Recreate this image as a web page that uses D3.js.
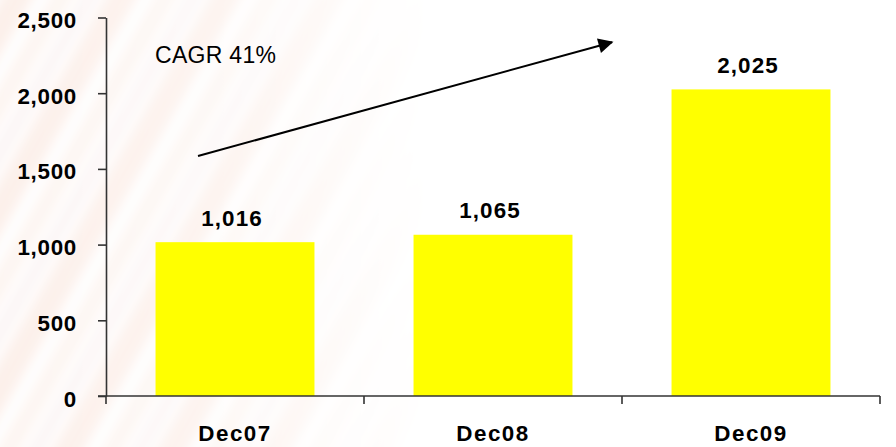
<!DOCTYPE html>
<html>
<head>
<meta charset="utf-8">
<script src="https://cdn.jsdelivr.net/npm/d3@7"></script>
<style>
  html, body { margin: 0; padding: 0; background: #fff; }
  svg { display: block; font-family: "Liberation Sans", Arial, sans-serif; }
</style>
</head>
<body>
<svg id="chart" width="896" height="447"></svg>
<script>
// Year-end values
const categories = ["Dec07", "Dec08", "Dec09"];
const values = [1016, 1065, 2025];
const yTicks = [0, 500, 1000, 1500, 2000, 2500];
const growthLabel = "CAGR 41%";

const W = 896, H = 447;
const plotLeft = 106, plotRight = 880, plotTop = 17.5, plotBottom = 396;
const FONT = "Liberation Sans, Arial, sans-serif";

const svg = d3.select("#chart");
const defs = svg.append("defs");

// Faint diagonal stripes in the background, fading out toward the right
const pat = defs.append("pattern")
  .attr("id", "stripes")
  .attr("patternUnits", "userSpaceOnUse")
  .attr("width", 90).attr("height", 90)
  .attr("patternTransform", "rotate(30)");
pat.append("rect").attr("x", 0).attr("y", 0).attr("width", 90).attr("height", 90).attr("fill", "#fff");
pat.append("rect").attr("x", 0).attr("y", 0).attr("width", 28).attr("height", 90).attr("fill", "#fbe9e1");
pat.append("rect").attr("x", 42).attr("y", 0).attr("width", 20).attr("height", 90).attr("fill", "#fcf1eb");
pat.append("rect").attr("x", 70).attr("y", 0).attr("width", 12).attr("height", 90).attr("fill", "#f9eeee");

const fade = defs.append("linearGradient")
  .attr("id", "fade").attr("x1", 0).attr("x2", 1).attr("y1", 0).attr("y2", 0);
fade.append("stop").attr("offset", "0%").attr("stop-color", "#fff").attr("stop-opacity", 0.7);
fade.append("stop").attr("offset", "25%").attr("stop-color", "#fff").attr("stop-opacity", 0.5);
fade.append("stop").attr("offset", "48%").attr("stop-color", "#fff").attr("stop-opacity", 0);
const mask = defs.append("mask").attr("id", "fadeMask");
mask.append("rect").attr("width", W).attr("height", H).attr("fill", "url(#fade)");

const blur = defs.append("filter").attr("id", "soft");
blur.append("feGaussianBlur").attr("stdDeviation", 6);

svg.append("rect").attr("width", W).attr("height", H).attr("fill", "#fff");
svg.append("g").attr("mask", "url(#fadeMask)")
  .append("rect").attr("x", -20).attr("y", -20).attr("width", W + 40).attr("height", H + 40)
  .attr("fill", "url(#stripes)").attr("filter", "url(#soft)");

// Scales
const y = d3.scaleLinear().domain([0, 2500]).range([plotBottom, plotTop]);
const x = d3.scaleBand().domain(categories).range([plotLeft, plotRight])
  .paddingInner(0.384).paddingOuter(0.192);
const xCat = d3.scaleBand().domain(categories).range([plotLeft, plotRight]).padding(0);

// Bars
svg.append("g").selectAll("rect").data(values).join("rect")
  .attr("x", (d, i) => x(categories[i]))
  .attr("y", d => y(d))
  .attr("width", x.bandwidth())
  .attr("height", d => y(0) - y(d))
  .attr("fill", "#ffff00");

// Value labels
const fmt = d3.format(",");
svg.append("g").selectAll("text").data(values).join("text")
  .attr("x", (d, i) => x(categories[i]) + x.bandwidth() / 2 - 3)
  .attr("y", d => y(d) - 16.5)
  .attr("text-anchor", "middle")
  .attr("font-family", FONT)
  .attr("font-size", 22.4).attr("font-weight", "bold")
  .attr("letter-spacing", 1.1)
  .attr("fill", "#000")
  .text(d => fmt(d));

// Y axis
const yAxis = svg.append("g").attr("transform", `translate(${plotLeft},0)`)
  .call(d3.axisLeft(y).tickValues(yTicks).tickFormat(fmt).tickSize(8).tickSizeOuter(0).tickPadding(21));
yAxis.select(".domain").attr("stroke", "#333").attr("stroke-width", 1.6);
yAxis.selectAll(".tick line").attr("stroke", "#333").attr("stroke-width", 1.6);
yAxis.selectAll(".tick text")
  .attr("font-size", 22.4).attr("font-weight", "bold").attr("letter-spacing", 0.7)
  .attr("dy", "0.45em")
  .attr("font-family", FONT).attr("fill", "#000");

// X axis
const xAxis = svg.append("g").attr("transform", `translate(0,${plotBottom})`)
  .call(d3.axisBottom(xCat).tickSize(0).tickSizeOuter(0).tickPadding(29));
xAxis.select(".domain").remove();
xAxis.append("line").attr("x1", plotLeft - 8).attr("x2", plotRight).attr("y1", 0).attr("y2", 0)
  .attr("stroke", "#333").attr("stroke-width", 1.6);
xAxis.selectAll(".tick text")
  .attr("font-size", 22.4).attr("font-weight", "bold").attr("letter-spacing", 1.5)
  .attr("font-family", FONT).attr("fill", "#000");
// Category boundary ticks
const bounds = categories.map(c => xCat(c)).concat([xCat(categories[categories.length - 1]) + xCat.bandwidth()]);
xAxis.append("g").selectAll("line").data(bounds).join("line")
  .attr("x1", d => d).attr("x2", d => d).attr("y1", 0).attr("y2", 8)
  .attr("stroke", "#333").attr("stroke-width", 1.6);

// Growth arrow with annotation
defs.append("marker")
  .attr("id", "head").attr("viewBox", "0 0 10 10")
  .attr("refX", 9).attr("refY", 5)
  .attr("markerUnits", "userSpaceOnUse")
  .attr("markerWidth", 17).attr("markerHeight", 15)
  .attr("orient", "auto")
  .append("path").attr("d", "M0,0 L10,5 L0,10 Z").attr("fill", "#000");

svg.append("line")
  .attr("x1", 198).attr("y1", y(1585))
  .attr("x2", 612).attr("y2", y(2337))
  .attr("stroke", "#000").attr("stroke-width", 2)
  .attr("marker-end", "url(#head)");

svg.append("text")
  .attr("x", 155).attr("y", 63.3)
  .attr("font-family", FONT)
  .attr("font-size", 23).attr("letter-spacing", 0.3)
  .attr("fill", "#000")
  .text(growthLabel);
</script>
</body>
</html>
